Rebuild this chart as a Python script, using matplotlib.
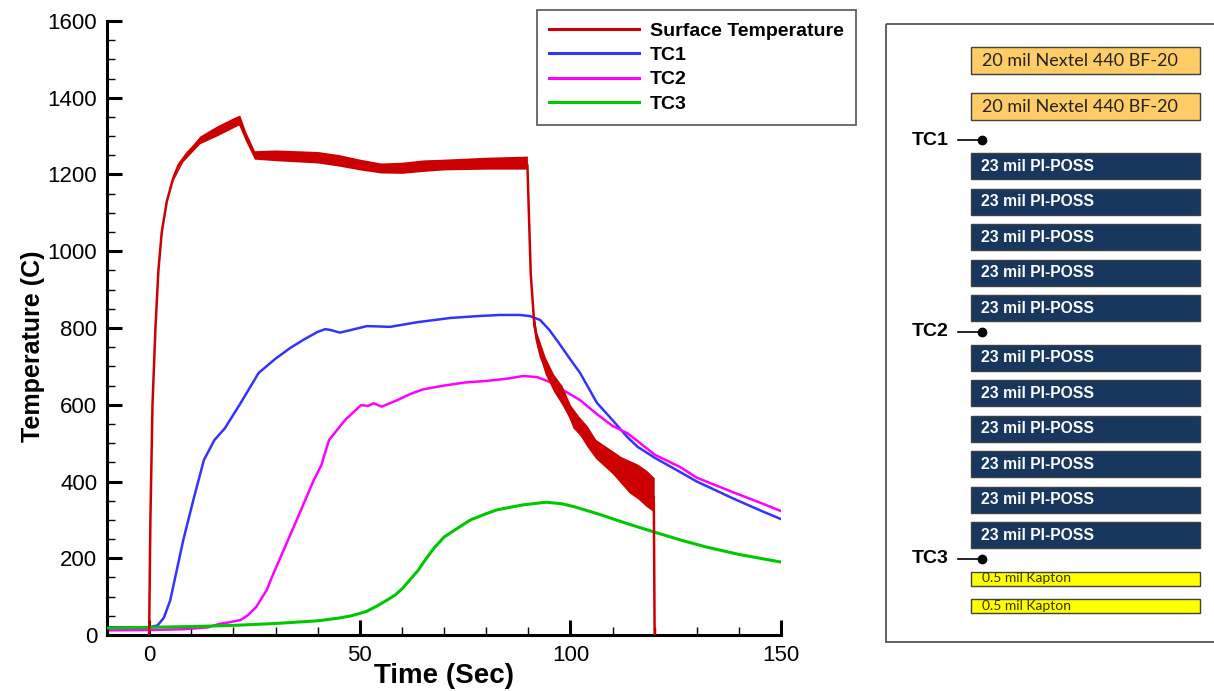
import matplotlib
matplotlib.use("Agg")
import matplotlib.pyplot as plt
from matplotlib.patches import Rectangle
from matplotlib.ticker import MultipleLocator

plt.rcParams['font.family'] = ['Liberation Sans', 'DejaVu Sans']

# ---- data ----
red_t = [0, 0.3, 0.8, 1.5, 2.2, 3.0, 4.2, 5.7, 7, 9, 12, 16, 20, 21, 23, 25, 27, 30, 35, 40, 45,
         50, 55, 60, 65, 70, 80, 89.8, 90.2, 90.6, 91.3, 92, 93, 95, 97, 99, 101, 104, 107, 110,
         113, 116, 118, 119.8, 120]
red_T = [0, 300, 600, 800, 950, 1050, 1130, 1190, 1225, 1255, 1290, 1318, 1338, 1345, 1295, 1255,
         1250, 1250, 1245, 1243, 1236, 1228, 1218, 1215, 1220, 1222, 1222, 1225, 1080, 940, 830,
         770, 725, 670, 630, 595, 540, 505, 470, 445, 415, 395, 375, 360, 0]

# noise band of the surface thermocouple (upper / lower envelope)
band_t = [5, 8, 12, 16, 20, 21.5, 23, 25, 30, 40, 45, 50, 55, 60, 65, 70, 80, 89.8]
band_lo = [1170, 1233, 1280, 1300, 1322, 1330, 1285, 1240, 1236, 1230, 1222, 1212, 1204, 1203,
           1208, 1212, 1214, 1214]
band_hi = [1172, 1245, 1300, 1326, 1348, 1355, 1310, 1262, 1264, 1260, 1252, 1240, 1230, 1232,
           1238, 1240, 1245, 1248]
tail_t = [91, 92, 94, 96, 98, 100, 102, 104, 106, 108, 110, 112, 114, 116, 118, 119.9]
tail_lo = [810, 755, 680, 635, 600, 560, 525, 490, 460, 440, 420, 395, 370, 355, 335, 320]
tail_hi = [850, 790, 725, 680, 650, 600, 570, 545, 510, 495, 480, 465, 455, 445, 430, 410]

tc1_t = [-10, 0, 2, 3.5, 5, 8.1, 10.5, 13, 15.5, 18, 21.7, 26, 30, 33.5, 36.6, 40, 41.8, 43, 45.3,
         48, 51.7, 57.2, 63.6, 71.4, 78, 83.3, 88, 90.4, 92.8, 95, 97, 100, 102.3, 106.3, 110,
         113.5, 116, 120, 126, 130, 138.4, 145, 150]
tc1_T = [20, 20, 25, 45, 90, 247, 352, 456, 508, 539, 604, 683, 720, 748, 769, 790, 797, 795, 788,
         795, 805, 803, 815, 826, 831, 834, 834, 831, 821, 795, 765, 718, 683, 605, 560, 516, 490,
         462, 425, 400, 357, 325, 302]

tc2_t = [-10, 0, 8, 14, 16.7, 19, 21.7, 23.5, 25.4, 27.9, 29.5, 31.6, 35.4, 39.1, 40.9, 41.5, 42.7,
         46.5, 50.3, 52, 53.3, 55.2, 58.9, 62, 65, 70, 75, 80, 85, 88.8, 92.1, 95.2, 98, 102.3,
         106.6, 110, 113.5, 116, 120, 126, 130, 138.4, 145, 150]
tc2_T = [12, 13, 15, 20, 29, 33, 39, 52, 73, 117, 160, 213, 309, 404, 443, 465, 508, 560, 599, 597,
         604, 595, 612, 628, 640, 650, 658, 662, 668, 675, 672, 659, 640, 612, 573, 545, 526, 505,
         470, 438, 410, 373, 345, 323]

tc3_t = [-10, 0, 10, 20, 30, 40, 45, 48, 51.5, 54, 56.5, 58.5, 60.2, 62, 63.9, 65.5, 67.6, 70,
         72.6, 76.3, 80, 82.5, 88.7, 94.2, 98, 101, 107.3, 113, 119.7, 126, 132, 140, 150]
tc3_T = [18, 20, 22, 25, 30, 37, 44, 50, 61, 75, 91, 105, 122, 145, 169, 195, 226, 255, 274, 300,
         316, 326, 339, 346, 342, 334, 313, 292, 269, 248, 230, 210, 190]

# layer stack of the test article (top to bottom)
stack = ["20 mil Nextel 440 BF-20", "20 mil Nextel 440 BF-20", "TC1"] + \
        ["23 mil PI-POSS"] * 5 + ["TC2"] + ["23 mil PI-POSS"] * 6 + ["TC3"] + \
        ["0.5 mil Kapton"] * 2

RED = "#cc0000"
BLUE = "#3333ff"
PINK = "#ff00ff"
GREEN = "#00c800"

fig = plt.figure(figsize=(12.14, 6.91), dpi=100)
W, H = 1214, 691
ax = fig.add_axes([107 / W, 1 - 635 / H, 674 / W, 614 / H])

ax.plot(tc1_t, tc1_T, color=BLUE, lw=1.8, label="TC1", zorder=2)
ax.plot(tc2_t, tc2_T, color=PINK, lw=1.8, label="TC2", zorder=2)
ax.plot(tc3_t, tc3_T, color=GREEN, lw=2.2, label="TC3", zorder=3)
ax.plot(red_t, red_T, color=RED, lw=1.8, label="Surface Temperature", zorder=4)
ax.fill_between(band_t, band_lo, band_hi, color=RED, lw=0, zorder=4)
ax.fill_between(tail_t, tail_lo, tail_hi, color=RED, lw=0, zorder=4)

ax.set_xlim(-10, 150)
ax.set_ylim(0, 1600)
ax.xaxis.set_major_locator(MultipleLocator(50))
ax.xaxis.set_minor_locator(MultipleLocator(10))
ax.yaxis.set_major_locator(MultipleLocator(200))
ax.yaxis.set_minor_locator(MultipleLocator(50))
ax.tick_params(which="major", direction="in", length=11, width=2.2, labelsize=16, pad=7)
ax.tick_params(which="minor", direction="in", length=6, width=1.0)
for s in ["top", "right"]:
    ax.spines[s].set_visible(False)
for s in ["left", "bottom"]:
    ax.spines[s].set_linewidth(2.2)

ax.set_xlabel("Time (Sec)", fontsize=20, fontweight="bold")
ax.set_ylabel("Temperature (C)", fontsize=18, fontweight="bold")
ax.xaxis.set_label_coords(0.5, -0.045)
ax.yaxis.set_label_coords(-0.092, 0.47)

h, l = ax.get_legend_handles_labels()
order = [3, 0, 1, 2]
leg = ax.legend([h[i] for i in order], [l[i] for i in order],
                loc="upper left", bbox_to_anchor=(537 / W, 1 - 10 / H),
                bbox_transform=fig.transFigure, borderaxespad=0,
                prop={"weight": "bold", "size": 14}, handlelength=4.6,
                handletextpad=0.6, labelspacing=0.35, borderpad=0.62,
                fancybox=False, framealpha=1, edgecolor="#555555")
leg.get_frame().set_linewidth(1.2)
for line in leg.get_lines():
    line.set_linewidth(2.2)

# ---- layer diagram on the right ----
pan = fig.add_axes([0, 0, 1, 1])
pan.set_xlim(0, W)
pan.set_ylim(H, 0)
pan.axis("off")
pan.add_patch(Rectangle((886, 24), 340, 618, fill=False, ec="#555555", lw=1.3))

y = 47
for name in stack:
    if name.startswith("TC"):
        yc = y + 1
        pan.text(949, yc, name, ha="right", va="center", fontsize=14, fontweight="bold")
        pan.plot([958, 982], [yc, yc], color="black", lw=1.2)
        pan.plot([982], [yc], "o", color="black", ms=6)
        y += 14
        continue
    if "Nextel" in name:
        hh, gap, fc = 27, 19, "#ffcc66"
        pan.add_patch(Rectangle((971, y), 229, hh, fc=fc, ec="#404040", lw=1))
        pan.text(982, y + hh / 2, name, ha="left", va="center", fontsize=13,
                 family="Lato", color="#222222")
    elif "PI-POSS" in name:
        hh, gap, fc = 26, 9.5, "#17375e"
        pan.add_patch(Rectangle((971, y), 229, hh, fc=fc, ec="#404040", lw=1))
        pan.text(981, y + hh / 2, name, ha="left", va="center", fontsize=11.3,
                 fontweight="bold", color="white")
    else:
        hh, gap, fc = 14, 13, "#ffff00"
        pan.add_patch(Rectangle((971, y), 229, hh, fc=fc, ec="#404040", lw=1))
        pan.text(982, y + hh / 2, name, ha="left", va="center", fontsize=10,
                 family="Lato", color="#333300")
    y += hh + gap

fig.savefig("out.png", dpi=100)
